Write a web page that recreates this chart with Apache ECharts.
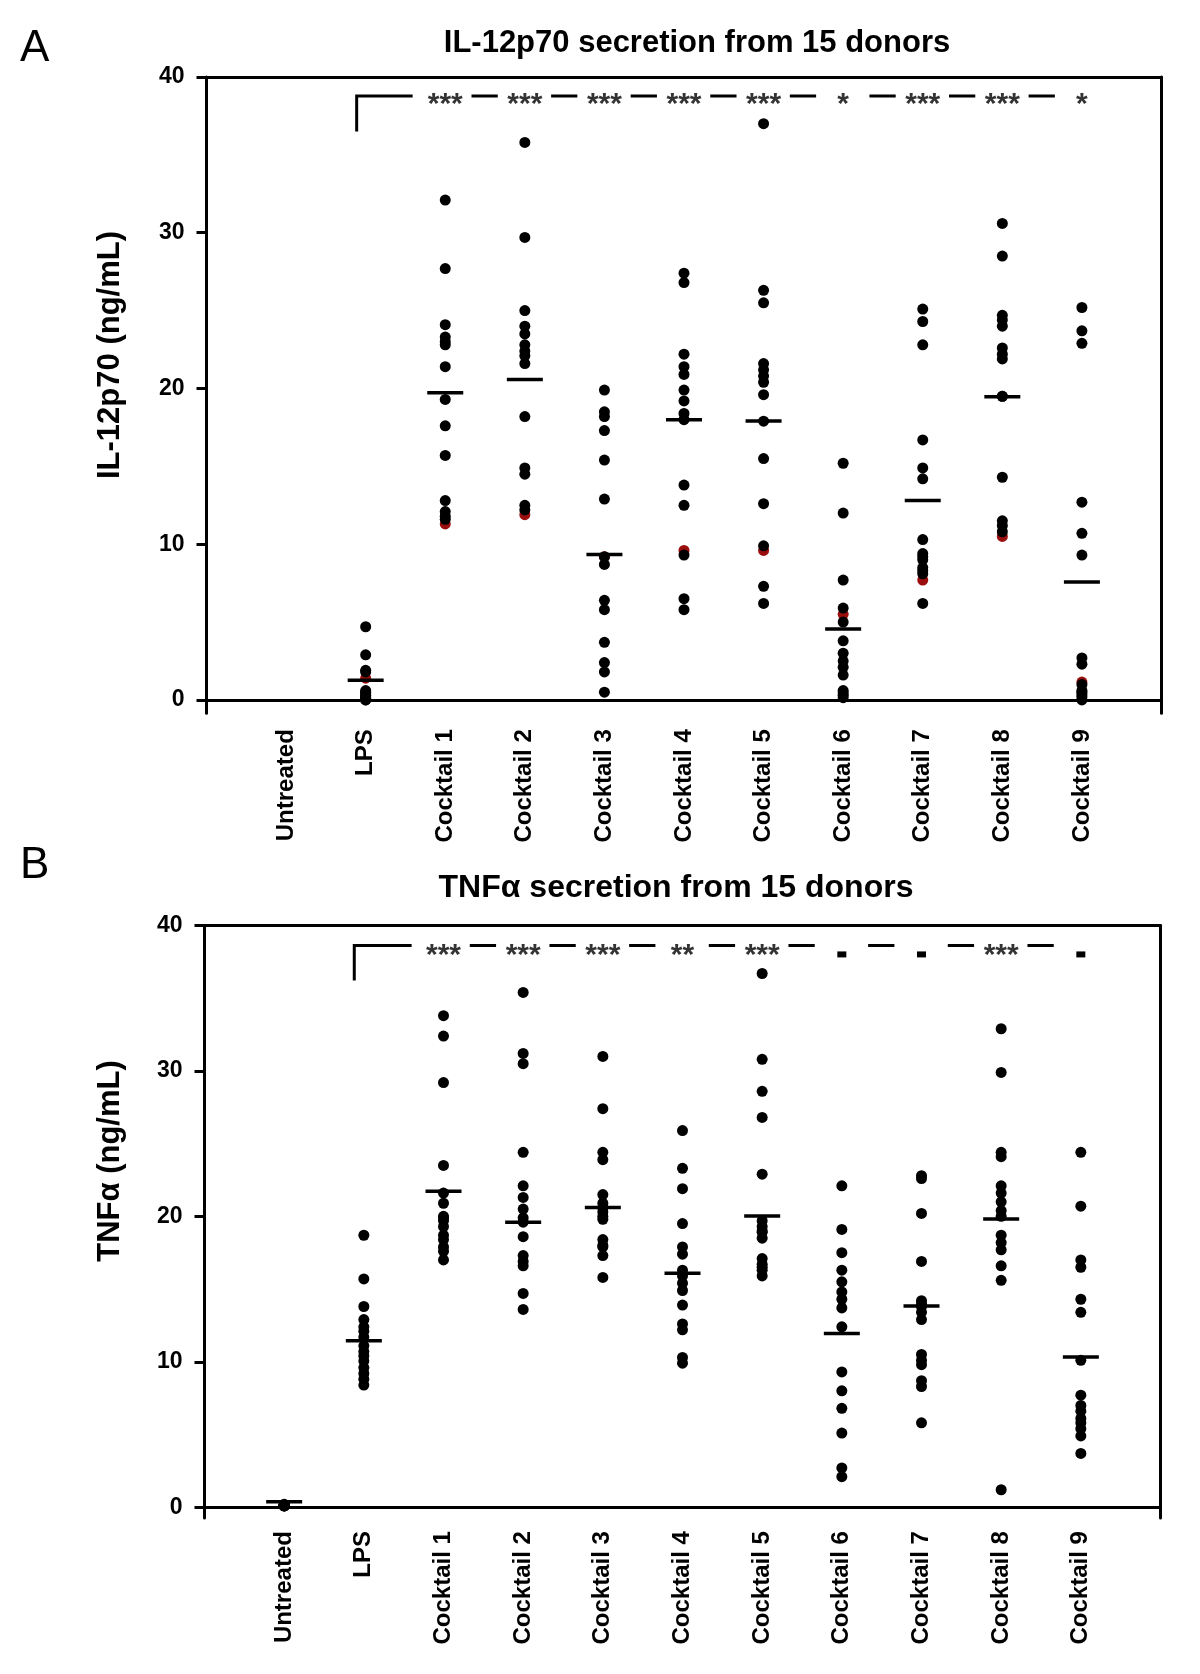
<!DOCTYPE html>
<html>
<head>
<meta charset="utf-8">
<script src="https://cdn.jsdelivr.net/npm/echarts@6/dist/echarts.min.js"></script>
<style>
html,body{margin:0;padding:0;background:#fff;}
#chart{width:1200px;height:1674px;}
</style>
</head>
<body>
<div id="chart"></div>
<script>
// ---------- categories and tick labels ----------
const categories = ['Untreated','LPS','Cocktail 1','Cocktail 2','Cocktail 3','Cocktail 4','Cocktail 5','Cocktail 6','Cocktail 7','Cocktail 8','Cocktail 9'];
const yTicks = [0, 10, 20, 30, 40];

// ---------- Panel A: IL-12p70 (ng/mL), black donors per group ----------
const il12_Untreated = [];
const il12_LPS = [4.7, 2.9, 1.9, 1.8, 0.6, 0.5, 0.4, 0.3, 0.2, 0.15, 0.1, 0.05, 0.0, 0.0];
const il12_C1 = [32.1, 27.7, 24.1, 23.3, 23.0, 22.8, 21.4, 19.3, 17.6, 15.7, 12.8, 12.1, 11.8, 11.6];
const il12_C2 = [35.8, 29.7, 25.0, 24.0, 23.5, 22.8, 22.4, 22.1, 21.6, 18.2, 14.9, 14.5, 12.5, 12.2];
const il12_C3 = [19.9, 18.5, 18.2, 17.3, 15.4, 12.9, 9.2, 8.7, 6.4, 5.8, 3.7, 2.4, 1.8, 0.5];
const il12_C4 = [27.4, 26.8, 22.2, 21.4, 20.9, 19.9, 19.2, 18.4, 18.0, 13.8, 12.5, 9.3, 6.5, 5.8];
const il12_C5 = [37.0, 26.3, 25.5, 21.6, 21.2, 20.8, 20.4, 19.6, 17.9, 15.5, 12.6, 9.9, 7.3, 6.2];
const il12_C6 = [15.2, 12.0, 7.7, 5.9, 5.0, 3.8, 3.0, 2.5, 2.1, 1.6, 0.6, 0.45, 0.3, 0.15];
const il12_C7 = [25.1, 24.3, 22.8, 16.7, 14.9, 14.2, 10.3, 9.4, 9.2, 9.0, 8.5, 8.3, 8.1, 6.2];
const il12_C8 = [30.6, 28.5, 24.7, 24.4, 24.0, 22.6, 22.2, 21.9, 19.5, 19.5, 14.3, 11.5, 11.2, 10.8];
const il12_C9 = [25.2, 23.7, 22.9, 12.7, 10.7, 9.3, 2.7, 2.3, 1.0, 0.6, 0.5, 0.35, 0.2, 0.0];
// highlighted donor (red)
const il12Red = [null, 1.4, 11.3, 11.9, 9.2, 9.6, 9.6, 5.5, 7.7, 10.5, 1.15];
// group mean bars
const il12Mean = [null, 1.26, 19.72, 20.58, 9.34, 17.99, 17.91, 4.56, 12.80, 19.47, 7.58];
// significance vs LPS
const il12Sig = ['', '', '***', '***', '***', '***', '***', '*', '***', '***', '*'];

// ---------- Panel B: TNFα (ng/mL) ----------
const tnf_Untreated = [0.1, 0.1, 0.12, 0.12, 0.15, 0.1, 0.1, 0.15, 0.2, 0.12, 0.1, 0.15, 0.1, 0.12, 0.1];
const tnf_LPS = [18.7, 15.7, 13.8, 12.9, 12.4, 12.1, 11.7, 11.1, 10.7, 10.4, 10.05, 9.6, 9.2, 8.8, 8.4];
const tnf_C1 = [33.8, 32.4, 29.2, 23.5, 21.6, 20.9, 20.0, 19.9, 19.7, 19.3, 18.7, 18.4, 17.9, 17.6, 17.0];
const tnf_C2 = [35.4, 31.2, 30.5, 24.4, 22.1, 21.3, 20.5, 19.9, 19.6, 18.6, 17.3, 16.9, 16.6, 14.7, 13.6];
const tnf_C3 = [31.0, 27.4, 24.4, 23.9, 21.5, 20.9, 20.6, 20.3, 20.0, 19.8, 18.4, 18.0, 17.9, 17.3, 15.8];
const tnf_C4 = [25.9, 23.3, 21.9, 19.5, 17.9, 17.4, 16.3, 15.9, 15.4, 14.9, 13.9, 12.6, 12.2, 10.3, 9.9];
const tnf_C5 = [36.7, 30.8, 28.6, 26.8, 22.9, 19.7, 19.3, 19.0, 18.9, 18.5, 17.1, 16.7, 16.5, 16.3, 15.9];
const tnf_C6 = [22.1, 19.1, 17.5, 16.3, 15.5, 14.8, 14.3, 13.7, 12.4, 9.3, 8.0, 6.8, 5.1, 2.7, 2.1];
const tnf_C7 = [22.8, 22.6, 20.2, 16.9, 14.2, 14.0, 13.8, 13.4, 12.9, 10.5, 10.1, 9.8, 8.7, 8.3, 5.8];
const tnf_C8 = [32.9, 29.9, 24.4, 24.1, 22.1, 21.6, 21.0, 20.4, 20.0, 18.7, 18.2, 17.7, 16.6, 15.6, 1.2];
const tnf_C9 = [24.4, 20.7, 17.0, 16.5, 14.3, 13.4, 10.1, 7.7, 7.0, 6.6, 6.1, 5.8, 5.4, 4.9, 3.7];
const tnfMean = [0.37, 11.45, 21.72, 19.59, 20.60, 16.08, 20.03, 11.95, 13.83, 19.81, 10.33];
const tnfSig = ['', '', '***', '***', '***', '**', '***', '-', '-', '***', '-'];

const il12Groups = [il12_Untreated, il12_LPS, il12_C1, il12_C2, il12_C3, il12_C4, il12_C5, il12_C6, il12_C7, il12_C8, il12_C9];
const tnfGroups = [tnf_Untreated, tnf_LPS, tnf_C1, tnf_C2, tnf_C3, tnf_C4, tnf_C5, tnf_C6, tnf_C7, tnf_C8, tnf_C9];

// ---------- styling / layout ----------
const FONT = 'Liberation Sans, Arial, Helvetica, sans-serif';
const BLACK = '#000';
const RED = '#9a0e0e';

const panels = [
  {groups: il12Groups, red: il12Red, mean: il12Mean, sig: il12Sig,
   grid: {left: 206.5, top: 77, width: 955, height: 636.2}, yMin: -0.85,
   sigY: 38.78, bracketLow: 36.5, bracketX: 1.887, firstEnd: 2.59, labelMargin: 16},
  {groups: tnfGroups, red: null, mean: tnfMean, sig: tnfSig,
   grid: {left: 204.5, top: 925.5, width: 956, height: 592.6}, yMin: -0.75,
   sigY: 38.63, bracketLow: 36.22, bracketX: 1.88, firstEnd: 2.6, labelMargin: 13}
];

const grids = [], xAxes = [], yAxes = [], series = [];

panels.forEach((p, pi) => {
  grids.push(Object.assign({containLabel: false}, p.grid));
  const xb = pi * 2, yb = pi * 2;
  // bottom x axis (categories at 1..11)
  xAxes.push({
    type: 'value', gridIndex: pi, min: 0, max: 12, interval: 1, position: 'bottom',
    axisLine: {show: true, onZero: true, lineStyle: {color: BLACK, width: 3}},
    axisTick: {show: false}, splitLine: {show: false},
    axisLabel: {
      show: true, rotate: 90, margin: p.labelMargin, color: BLACK,
      fontFamily: FONT, fontWeight: 'bold', fontSize: 24,
      formatter: v => categories[Math.round(v) - 1] || ''
    }
  });
  // top frame line
  xAxes.push({
    type: 'value', gridIndex: pi, min: 0, max: 12, position: 'top',
    axisLine: {show: true, onZero: false, lineStyle: {color: BLACK, width: 3}},
    axisTick: {show: false}, axisLabel: {show: false}, splitLine: {show: false}
  });
  // left y axis
  yAxes.push({
    type: 'value', gridIndex: pi, min: p.yMin, max: 40, position: 'left',
    axisLine: {show: true, onZero: true, lineStyle: {color: BLACK, width: 3}},
    axisTick: {show: true, customValues: yTicks, length: 10, lineStyle: {color: BLACK, width: 3}},
    axisLabel: {show: true, customValues: yTicks, margin: 22, color: BLACK,
      fontFamily: FONT, fontWeight: 'bold', fontSize: 23},
    splitLine: {show: false}
  });
  // right frame line
  yAxes.push({
    type: 'value', gridIndex: pi, min: p.yMin, max: 40, position: 'right',
    axisLine: {show: true, onZero: false, lineStyle: {color: BLACK, width: 3}},
    axisTick: {show: false}, axisLabel: {show: false}, splitLine: {show: false}
  });

  // significance bracket & dashes
  const sigIdx = [];
  p.sig.forEach((s, i) => { if (s) sigIdx.push(i + 1); });
  const segs = [{coords: [[p.bracketX, p.bracketLow], [p.bracketX, p.sigY], [p.firstEnd, p.sigY]]}];
  for (let k = 0; k < sigIdx.length - 1; k++) {
    const x = sigIdx[k];
    segs.push({coords: [[x + 0.33, p.sigY], [x + 0.66, p.sigY]]});
  }
  series.push({
    type: 'lines', coordinateSystem: 'cartesian2d', xAxisIndex: xb, yAxisIndex: yb,
    polyline: true, silent: true, z: 2,
    lineStyle: {color: BLACK, width: 3, opacity: 1, curveness: 0, join: 'miter'},
    data: segs
  });

  // red highlighted donor
  if (p.red) {
    series.push({
      type: 'scatter', xAxisIndex: xb, yAxisIndex: yb, z: 3, silent: true,
      symbol: 'circle', symbolSize: 11, itemStyle: {color: RED, opacity: 1},
      data: p.red.map((v, i) => v === null ? null : [i + 1, v]).filter(d => d)
    });
  }
  // black donors
  const pts = [];
  p.groups.forEach((arr, i) => arr.forEach(v => pts.push([i + 1, v])));
  series.push({
    type: 'scatter', xAxisIndex: xb, yAxisIndex: yb, z: 4, silent: true,
    symbol: 'circle', symbolSize: 11, itemStyle: {color: BLACK, opacity: 1},
    data: pts
  });
  // mean bars
  series.push({
    type: 'scatter', xAxisIndex: xb, yAxisIndex: yb, z: 5, silent: true,
    symbol: 'rect', symbolSize: [36, 3.5], itemStyle: {color: BLACK, opacity: 1},
    data: p.mean.map((v, i) => v === null ? null : [i + 1, v]).filter(d => d)
  });
  // star labels
  const starData = [];
  const dashData = [];
  p.sig.forEach((s, i) => {
    if (!s) return;
    if (s === '-') dashData.push([i + 1, p.sigY]);
    else starData.push({name: s, value: [i + 1, p.sigY]});
  });
  series.push({
    type: 'scatter', xAxisIndex: xb, yAxisIndex: yb, z: 6, silent: true,
    symbol: 'circle', symbolSize: 1, itemStyle: {color: 'rgba(0,0,0,0)'},
    label: {show: true, position: 'inside', formatter: '{b}', offset: [0, pi === 0 ? 9 : 10],
      color: BLACK, fontFamily: FONT, fontWeight: 'bold', fontSize: 30},
    data: starData
  });
  if (dashData.length) {
    series.push({
      type: 'scatter', xAxisIndex: xb, yAxisIndex: yb, z: 6, silent: true,
      symbol: 'rect', symbolSize: [9, 6], symbolOffset: [0, 9], itemStyle: {color: BLACK, opacity: 1},
      data: dashData
    });
  }
});

function txt(text, x, y, size, weight, align, rot) {
  return {
    type: 'text', x: x, y: y, rotation: rot || 0, silent: true,
    style: {text: text, fontSize: size, fontWeight: weight, fontFamily: FONT, fill: BLACK,
      textAlign: align, align: align, textVerticalAlign: 'middle', verticalAlign: 'middle'}
  };
}

const chart = echarts.init(document.getElementById('chart'), null, {renderer: 'canvas'});
chart.setOption({
  backgroundColor: '#fff',
  animation: false,
  grid: grids,
  xAxis: xAxes,
  yAxis: yAxes,
  series: series,
  graphic: [
    txt('A', 20, 49, 44, 'normal', 'left'),
    txt('B', 20, 866, 44, 'normal', 'left'),
    txt('IL-12p70 secretion from 15 donors', 697, 43, 31, 'bold', 'center'),
    txt('TNFα secretion from 15 donors', 676, 888, 32, 'bold', 'center'),
    txt('IL-12p70 (ng/mL)', 110, 355, 31, 'bold', 'center', Math.PI / 2),
    txt('TNFα (ng/mL)', 110, 1161, 31, 'bold', 'center', Math.PI / 2)
  ]
});
</script>
</body>
</html>
